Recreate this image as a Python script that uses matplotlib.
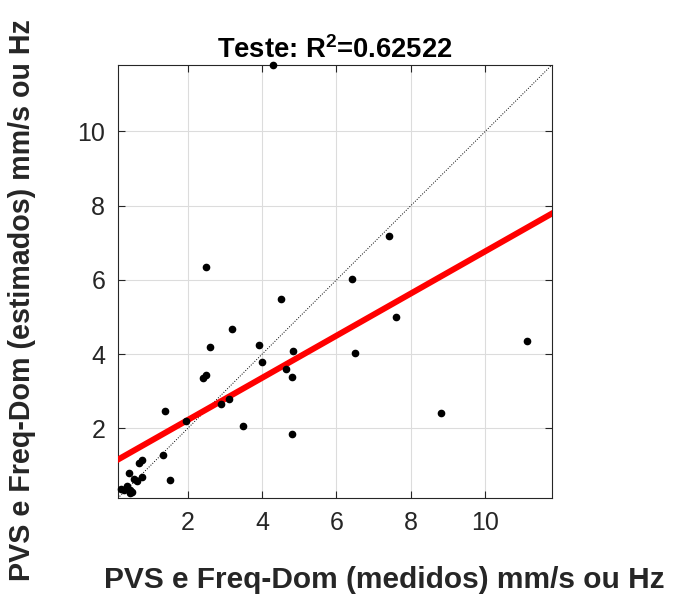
import numpy as np
import matplotlib
matplotlib.use("Agg")
import matplotlib.pyplot as plt

plt.rcParams['font.family'] = ['Liberation Sans', 'DejaVu Sans']
plt.rcParams['mathtext.fontset'] = 'custom'
plt.rcParams['mathtext.bf'] = 'Liberation Sans:bold'

# measured vs estimated values (PVS mm/s and dominant frequency Hz)
medidos = [4.30, 7.41, 2.50, 6.41, 4.50, 7.61, 3.20, 11.12, 2.59, 3.91,
           4.83, 6.51, 4.01, 4.64, 4.81, 2.40, 2.50, 3.10, 2.90, 1.40,
           8.82, 1.96, 3.50, 4.81, 1.33, 0.76, 0.69, 1.52, 0.43, 0.76,
           0.56, 0.63, 0.22, 0.37, 0.45, 0.46, 0.51, 0.30]
estimados = [11.79, 7.19, 6.35, 6.02, 5.48, 5.00, 4.68, 4.35, 4.20, 4.24,
             4.08, 4.02, 3.79, 3.59, 3.39, 3.36, 3.44, 2.78, 2.67, 2.47,
             2.41, 2.19, 2.07, 1.86, 1.28, 1.15, 1.06, 0.62, 0.79, 0.68,
             0.63, 0.58, 0.38, 0.44, 0.34, 0.25, 0.29, 0.34]
r2 = 0.62522
# linear fit: estimados = a * medidos + b
fit_a = 0.568
fit_b = 1.09
ticks = [2, 4, 6, 8, 10]
lims = [0.12, 11.79]

x = np.array(medidos)
y = np.array(estimados)
lo, hi = lims

fig = plt.figure(figsize=(6.73, 6.01), dpi=100)
ax = fig.add_axes([0.175, 0.171, 0.645, 0.721])

ax.plot([lo, hi], [lo, hi], ':', color='black', lw=0.7, zorder=2)
xf = np.array([lo, hi])
ax.plot(xf, fit_a * xf + fit_b, '-', color='red', lw=4.3, zorder=3)
ax.plot(x, y, 'o', color='black', ms=4.5, zorder=4, clip_on=False)

ax.set_xlim(lo, hi)
ax.set_ylim(lo, hi)
ax.set_xticks(ticks)
ax.set_yticks(ticks)
ax.grid(True, color='#dcdcdc', lw=0.8)
ax.set_axisbelow(True)
ax.tick_params(direction='in', top=True, right=True, length=5,
               labelsize=18, labelcolor='#262626', color='#262626', pad=9)
for s in ax.spines.values():
    s.set_color('#262626')
    s.set_linewidth(0.8)

ax.set_title(r'Teste: R$\mathbf{^{2}}$=%.5f' % r2, fontsize=19.7,
             fontweight='bold', pad=5)

# axis labels placed in figure coordinates
fig.text(384 / 673, 1 - 580 / 601, 'PVS e Freq-Dom (medidos) mm/s ou Hz',
         fontsize=21.5, fontweight='bold', color='#262626',
         ha='center', va='center')
fig.text(22 / 673, 1 - 300 / 601, 'PVS e Freq-Dom (estimados) mm/s ou Hz',
         fontsize=20.6, fontweight='bold', color='#262626',
         ha='center', va='center', rotation=90)

fig.savefig('out.png', dpi=100)
